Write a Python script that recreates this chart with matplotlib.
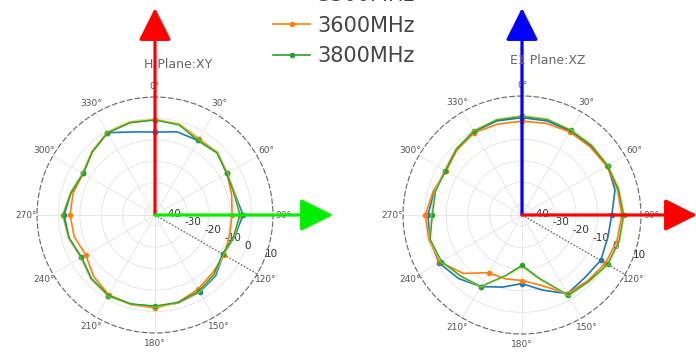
import numpy as np
import matplotlib
matplotlib.use('Agg')
import matplotlib.pyplot as plt
from matplotlib.patches import FancyArrowPatch
from matplotlib.transforms import IdentityTransform

# angles in degrees, 15 deg steps
angles = list(range(0, 360, 15))

# H plane : XY  (dB)
h_3300 = [-6.3, -4.9, -4.9, -4.0, -6.3, -6.5, -4.0, -6.5, -8.2, -5.0, -3.5, -2.6,
          -2.3, -2.0, -1.6, -3.0, -5.4, -3.5, -2.6, -4.5, -6.3, -3.5, -0.7, -4.9]
h_3600 = [-0.5, -1.2, -4.0, -3.8, -6.3, -8.0, -9.1, -9.0, -7.7, -7.0, -5.0, -3.0,
          -1.6, -1.8, -2.0, -4.5, -7.7, -6.0, -5.4, -5.5, -6.3, -3.5, -0.7, -0.5]
h_3800 = [-0.7, -1.5, -4.9, -4.0, -6.3, -6.8, -5.4, -7.0, -8.6, -6.0, -4.0, -2.8,
          -2.5, -2.0, -1.6, -3.0, -5.4, -3.5, -2.1, -4.5, -6.3, -3.5, -0.7, -0.3]
h_3500 = [-0.2, -1.0, -4.4, -3.5, -5.8, -6.3, -4.9, -6.5, -8.0, -5.5, -3.5, -2.3,
          -2.0, -1.5, -1.1, -2.5, -4.9, -3.0, -1.6, -4.0, -5.8, -3.0, -0.2, 0.2]

# E1 plane : XZ  (dB)
e_3300 = [0.0, 0.0, -0.3, 0.0, 0.7, -0.5, -3.5, -4.0, -3.0, -4.0, -3.0, -9.1,
          -13.3, -10.5, -6.8, -3.5, -0.7, -1.0, -1.5, -3.0, -4.0, -2.0, -0.5, 0.0]
e_3600 = [-1.6, -1.2, -0.7, -0.5, 0.2, 0.7, 1.2, 0.5, -0.5, -2.0, -3.0, -11.4,
          -14.7, -14.5, -14.2, -6.8, -1.2, -0.5, -0.3, -2.5, -4.5, -2.5, -1.0, -1.5]
e_3800 = [0.7, 0.7, 0.2, 0.5, 0.7, 1.2, 2.0, 1.5, 0.7, -1.5, -2.1, -14.7,
          -21.7, -16.0, -6.8, -5.0, -2.0, -1.0, -3.5, -3.5, -4.0, -2.0, -0.3, 0.5]
e_3500 = [1.0, 1.0, 0.6, 0.9, 1.1, 1.6, 2.4, 1.9, 1.1, -1.0, -1.7, -14.0,
          -20.5, -15.5, -6.5, -4.6, -1.6, -0.6, -3.0, -3.1, -3.6, -1.6, 0.1, 0.9]

r_ticks = [-40, -30, -20, -10, 0, 10]
angle_labels = [f'{a}\u00b0' for a in range(0, 360, 30)]
names = ['3300MHz', '3600MHz', '3800MHz']
colors = ['#1f77b4', '#ff7f0e', '#2ca02c']

fig = plt.figure(figsize=(6.96, 3.58), dpi=100)
ax1 = fig.add_axes([37/696, 25/358, 236/696, 236/358], projection='polar')
ax2 = fig.add_axes([403/696, 24/358, 238/696, 238/358], projection='polar')


def setup(ax):
    ax.set_theta_zero_location('N')
    ax.set_theta_direction(-1)
    ax.set_rlim(-45, 10)
    ax.set_rgrids(r_ticks, [str(t) for t in r_ticks], fontsize=7.5, color='#333')
    ax.set_rlabel_position(112)
    ax.set_thetagrids(range(0, 360, 30), angle_labels, fontsize=6.5, color='#555')
    ax.tick_params(axis='x', pad=-3)
    ax.grid(color='#e3e3e3', lw=0.6)
    ax.spines['polar'].set_linestyle((0, (4, 3)))
    ax.spines['polar'].set_color('#666')
    ax.spines['polar'].set_linewidth(0.8)
    ax.axvline(np.deg2rad(120), color='#555', ls=':', lw=0.9)


def draw(ax, series):
    th = np.deg2rad(angles + [angles[0]])
    lines = []
    for vals, c in zip(series[:3], colors):
        l, = ax.plot(th, vals + [vals[0]], color=c, lw=1.2, marker='o', ms=3,
                     markevery=2)
        lines.append(l)
    y = series[3]
    ax.plot(th, y + [y[0]], color='#d6d44a', lw=1.0, alpha=0.5)
    return lines


setup(ax1)
setup(ax2)
handles = draw(ax1, [h_3300, h_3600, h_3800, h_3500])
draw(ax2, [e_3300, e_3600, e_3800, e_3500])

fig.text(178/696, 1 - 65/358, 'H Plane:XY', ha='center', va='center', fontsize=9, color='#666')
fig.text(548/696, 1 - 60/358, 'E1 Plane:XZ', ha='center', va='center', fontsize=9, color='#666')

fig.legend(handles, names, loc='upper left', bbox_to_anchor=(0.365, 1.094),
           frameon=False, fontsize=15, labelcolor='#444', handlelength=1.8,
           labelspacing=0.5, handletextpad=0.35)

# coordinate arrows
def arrow(p0, p1, c):
    a = FancyArrowPatch(p0, p1, transform=IdentityTransform(), color=c,
                        arrowstyle='-|>,head_length=0.8,head_width=0.4',
                        mutation_scale=25, lw=2.3, shrinkA=0, shrinkB=0)
    fig.add_artist(a)

arrow((155, 358 - 215), (155, 358 - 8), 'red')
arrow((155, 358 - 215), (333, 358 - 215), '#00ee00')
arrow((522, 358 - 215), (522, 358 - 8), 'blue')
arrow((522, 358 - 215), (697, 358 - 215), 'red')

fig.savefig('out.png', dpi=100)
